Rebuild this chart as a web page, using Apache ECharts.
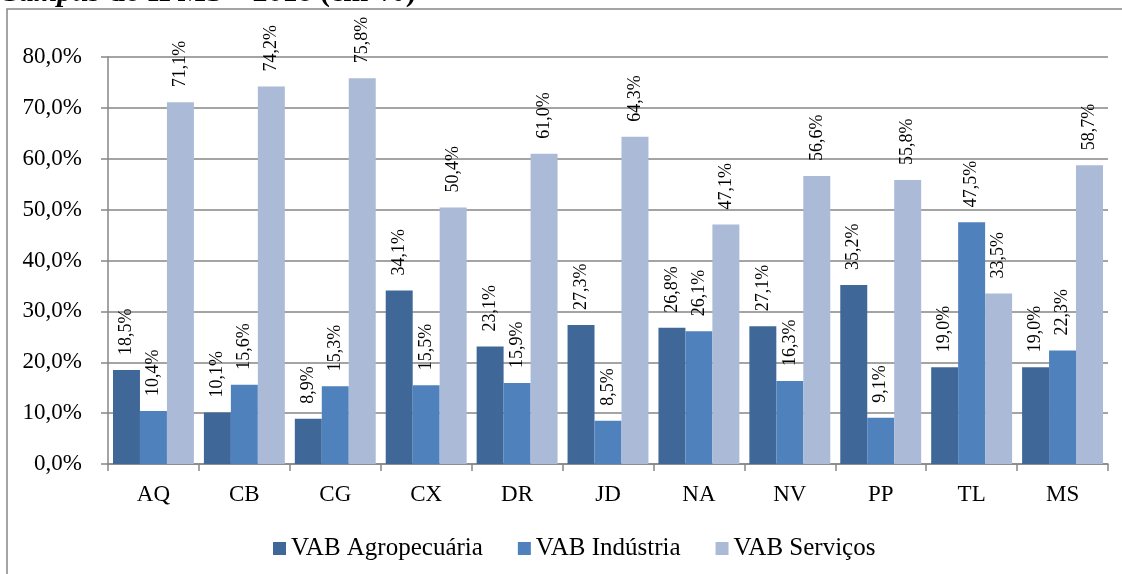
<!DOCTYPE html>
<html>
<head>
<meta charset="utf-8">
<script src="https://cdn.jsdelivr.net/npm/echarts@6/dist/echarts.min.js"></script>
<style>
  html, body { margin: 0; padding: 0; background: #fff; }
  #chart { width: 1122px; height: 574px; }
</style>
</head>
<body>
<div id="chart"></div>
<script>
// campus categories and VAB shares (%)
var campus = ['AQ', 'CB', 'CG', 'CX', 'DR', 'JD', 'NA', 'NV', 'PP', 'TL', 'MS'];
var agro = [18.5, 10.1, 8.9, 34.1, 23.1, 27.3, 26.8, 27.1, 35.2, 19.0, 19.0];
var industria = [10.4, 15.6, 15.3, 15.5, 15.9, 8.5, 26.1, 16.3, 9.1, 47.5, 22.3];
var servicos = [71.1, 74.2, 75.8, 50.4, 61.0, 64.3, 47.1, 56.6, 55.8, 33.5, 58.7];
var seriesNames = ['VAB Agropecuária', 'VAB Indústria', 'VAB Serviços'];

var serif = '"Liberation Serif", "Times New Roman", serif';

function pct(v) {
    return v.toFixed(1).replace('.', ',') + '%';
}

function barSeries(name, data) {
    return {
        name: name,
        type: 'bar',
        data: data,
        barGap: '0%',
        barCategoryGap: '11%',
        label: {
            show: true,
            position: 'top',
            rotate: 90,
            align: 'left',
            verticalAlign: 'middle',
            distance: 15,
            fontFamily: serif,
            fontSize: 18,
            color: '#000',
            formatter: function (p) { return pct(p.value); }
        }
    };
}

var myChart = echarts.init(document.getElementById('chart'));

var option = {
    animation: false,
    color: ['#3F6899', '#4F81BD', '#AABAD7'],
    graphic: [
        {
            type: 'rect',
            shape: { x: 7, y: 9, width: 1200, height: 700 },
            style: { fill: 'none', stroke: '#868686', lineWidth: 1.5 },
            silent: true
        },
        {
            type: 'text',
            x: -1,
            y: 8,
            style: {
                text: '{a|Campus}{b| do IFMS – 2018 (em %)}',
                verticalAlign: 'bottom',
                rich: {
                    a: { fontFamily: serif, fontSize: 30, fontWeight: 'bold', fontStyle: 'italic', fill: '#000' },
                    b: { fontFamily: serif, fontSize: 30, fontWeight: 'bold', fill: '#000' }
                }
            },
            silent: true
        }
    ],
    legend: {
        data: seriesNames,
        left: 268,
        top: 531,
        icon: 'rect',
        itemWidth: 13,
        itemHeight: 13,
        itemGap: 35,
        textStyle: { fontFamily: serif, fontSize: 25, color: '#000' }
    },
    grid: { left: 108, right: 14, top: 57, bottom: 110 },
    xAxis: {
        type: 'category',
        data: campus,
        axisLine: { lineStyle: { color: '#868686', width: 1.5 } },
        axisTick: { show: true, length: 7, lineStyle: { color: '#868686', width: 1.5 } },
        axisLabel: { fontFamily: serif, fontSize: 23, color: '#000', margin: 19 }
    },
    yAxis: {
        type: 'value',
        min: 0,
        max: 80,
        interval: 10,
        axisLine: { show: true, lineStyle: { color: '#868686', width: 1.5 } },
        axisTick: { show: true, length: 7, lineStyle: { color: '#868686', width: 1.5 } },
        splitLine: { lineStyle: { color: '#868686', width: 1.5 } },
        axisLabel: {
            fontFamily: serif, fontSize: 23, color: '#000', margin: 26,
            formatter: function (v) { return pct(v); }
        }
    },
    series: [
        barSeries(seriesNames[0], agro),
        barSeries(seriesNames[1], industria),
        barSeries(seriesNames[2], servicos)
    ]
};

myChart.setOption(option);
</script>
</body>
</html>
